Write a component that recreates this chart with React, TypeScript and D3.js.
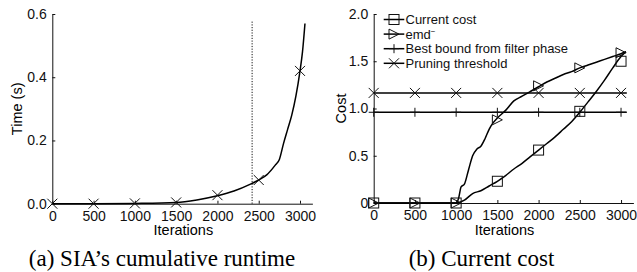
import { useEffect, useRef } from "react";
import * as d3 from "d3";

// marker positions shared by every series
const markerIters = [0, 500, 1000, 1500, 2000, 2500, 3000];
const xTicks = [0, 500, 1000, 1500, 2000, 2500, 3000];

// (a) cumulative runtime
const timeIters = [0, 500, 1000, 1500, 1750, 2000, 2200, 2400, 2500, 2600, 2700, 2750, 2800, 2850, 2900, 2950, 3000, 3030, 3060];
const timeValues = [0, 0, 0.001, 0.004, 0.012, 0.025, 0.04, 0.062, 0.075, 0.092, 0.122, 0.14, 0.19, 0.235, 0.28, 0.34, 0.42, 0.48, 0.57];
const timeMarkers = [0, 0, 0.001, 0.004, 0.027, 0.075, 0.42];
const timeTicks = [0, 0.2, 0.4, 0.6];
const filterEndIter = 2420;

// (b) current cost
const emdIters = [0, 1000, 1030, 1060, 1100, 1150, 1200, 1250, 1300, 1350, 1400, 1450, 1500, 1600, 1700, 1800, 1900, 2000, 2100, 2200, 2300, 2400, 2500, 2600, 2700, 2800, 2900, 3000, 3060];
const emdValues = [0, 0, 0.05, 0.17, 0.2, 0.35, 0.5, 0.57, 0.6, 0.68, 0.78, 0.85, 0.9, 0.98, 1.08, 1.13, 1.18, 1.23, 1.28, 1.32, 1.36, 1.39, 1.43, 1.46, 1.49, 1.52, 1.55, 1.58, 1.6];
const emdMarkers = [0, 0, 0, 0.88, 1.24, 1.43, 1.59];
const costIters = [0, 1000, 1100, 1200, 1300, 1400, 1500, 1600, 1700, 1800, 1900, 2000, 2100, 2200, 2300, 2400, 2500, 2600, 2700, 2800, 2900, 3000, 3060];
const costValues = [0, 0, 0.03, 0.1, 0.13, 0.18, 0.23, 0.29, 0.36, 0.42, 0.49, 0.56, 0.63, 0.7, 0.78, 0.86, 0.96, 1.07, 1.18, 1.3, 1.43, 1.55, 1.6];
const costMarkers = [0, 0, 0, 0.23, 0.56, 0.97, 1.5];
const bestBound = 0.96;
const pruningThreshold = 1.165;
const costTicks = [0, 0.5, 1, 1.5, 2];
const legendLabels = ["Current cost", "emd", "Best bound from filter phase", "Pruning threshold"];

const SANS = "'Liberation Sans', Arial, Helvetica, sans-serif";
const SERIF = "'Liberation Serif', 'Times New Roman', serif";

type Sel = d3.Selection<SVGGElement, unknown, null, undefined>;

function drawMarker(g: Sel, kind: string, x: number, y: number) {
  const s = 5;
  const m = g.append("g").attr("transform", `translate(${x},${y})`)
    .attr("fill", "none").attr("stroke", "#111").attr("stroke-width", 1);
  if (kind === "x") {
    m.append("path").attr("d", `M${-s},${-s}L${s},${s}M${-s},${s}L${s},${-s}`);
  } else if (kind === "plus") {
    m.append("path").attr("d", `M${-s},0L${s},0M0,${-4.5}L0,4.5`);
  } else if (kind === "square") {
    m.append("rect").attr("x", -s).attr("y", -s).attr("width", 2 * s).attr("height", 2 * s);
  } else if (kind === "tri") {
    m.append("path").attr("d", `M${-s},${-s}L${s},0L${-s},${s}Z`);
  }
}

function drawAxes(g: Sel, x: d3.ScaleLinear<number, number>, y: d3.ScaleLinear<number, number>,
  yTicks: number[], yFmt: (d: number) => string, yLabel: string, yLabelX: number) {
  const y0 = y(0);
  const xa = g.append("g").attr("transform", `translate(0,${y0})`)
    .call(d3.axisBottom(x).tickValues(xTicks).tickSizeInner(-3).tickSizeOuter(0).tickPadding(7).tickFormat(d3.format("d")));
  const ya = g.append("g").attr("transform", `translate(${x(0)},0)`)
    .call(d3.axisLeft(y).tickValues(yTicks).tickSizeInner(-3).tickSizeOuter(0).tickPadding(5.5).tickFormat((d) => yFmt(d as number)));
  [xa, ya].forEach((a) => {
    a.selectAll("text").attr("font-family", SANS).attr("font-size", 14).attr("fill", "#111");
    a.selectAll("line, path").attr("stroke", "#111");
  });
  const [r0, r1] = x.range();
  g.append("text").attr("x", (r0 + r1) / 2 + 1).attr("y", 235)
    .attr("text-anchor", "middle").attr("font-family", SANS).attr("font-size", 14.5).text("Iterations");
  const [yb, yt] = y.range();
  g.append("text").attr("transform", `translate(${yLabelX},${(yb + yt) / 2}) rotate(-90)`)
    .attr("text-anchor", "middle").attr("font-family", SANS).attr("font-size", 14.5).text(yLabel);
}

export default function App() {
  const ref = useRef<SVGSVGElement>(null);

  useEffect(() => {
    const svg = d3.select(ref.current);
    svg.selectAll("*").remove();
    const root = svg.append("g") as unknown as Sel;

    // ---- (a) ----
    const xa = d3.scaleLinear().domain([0, 3150]).range([52.3, 312.4]);
    const ya = d3.scaleLinear().domain([0, 0.6]).range([203.7, 14]);
    const ga = root.append("g");
    drawAxes(ga, xa, ya, timeTicks, d3.format(".1f"), "Time (s)", 22);

    ga.append("line")
      .attr("x1", xa(filterEndIter)).attr("x2", xa(filterEndIter))
      .attr("y1", ya(0)).attr("y2", ya(0.58))
      .attr("stroke", "#111").attr("stroke-width", 1).attr("stroke-dasharray", "1.2,1.5");

    const lineA = d3.line<number>().x((_, i) => xa(timeIters[i])).y((d) => ya(d)).curve(d3.curveMonotoneX);
    ga.append("path").attr("d", lineA(timeValues)).attr("fill", "none").attr("stroke", "#000").attr("stroke-width", 1.5);
    timeMarkers.forEach((v, i) => drawMarker(ga, "x", xa(markerIters[i]), ya(v)));

    ga.append("text").attr("x", 162).attr("y", 266).attr("text-anchor", "middle")
      .attr("font-family", SERIF).attr("font-size", 23).text("(a) SIA\u2019s cumulative runtime");

    // ---- (b) ----
    const xb = d3.scaleLinear().domain([0, 3150]).range([373.7, 633.4]);
    const yb = d3.scaleLinear().domain([0, 2]).range([203, 14]);
    const gb = root.append("g");
    drawAxes(gb, xb, yb, costTicks, (d) => (d === 0 ? "0" : d3.format(".1f")(d)), "Cost", 346);

    const hEnd = 3070;
    [[bestBound, "plus"], [pruningThreshold, "x"]].forEach(([v, k]) => {
      gb.append("line").attr("x1", xb(0)).attr("x2", xb(hEnd))
        .attr("y1", yb(v as number)).attr("y2", yb(v as number))
        .attr("stroke", "#000").attr("stroke-width", 1.5);
      markerIters.forEach((it) => drawMarker(gb, k as string, xb(it), yb(v as number)));
    });

    const lineEmd = d3.line<number>().x((_, i) => xb(emdIters[i])).y((d) => yb(d)).curve(d3.curveMonotoneX);
    gb.append("path").attr("d", lineEmd(emdValues)).attr("fill", "none").attr("stroke", "#000").attr("stroke-width", 1.5);
    const lineCost = d3.line<number>().x((_, i) => xb(costIters[i])).y((d) => yb(d)).curve(d3.curveMonotoneX);
    gb.append("path").attr("d", lineCost(costValues)).attr("fill", "none").attr("stroke", "#000").attr("stroke-width", 1.5);
    costMarkers.forEach((v, i) => drawMarker(gb, "square", xb(markerIters[i]), yb(v)));
    emdMarkers.forEach((v, i) => drawMarker(gb, "tri", xb(markerIters[i]), yb(v)));

    // legend
    const kinds = ["square", "tri", "plus", "x"];
    legendLabels.forEach((label, i) => {
      const cy = 19.5 + i * 14.6;
      gb.append("line").attr("x1", 383.7).attr("x2", 404.3).attr("y1", cy).attr("y2", cy)
        .attr("stroke", "#000").attr("stroke-width", 1.5);
      drawMarker(gb, kinds[i], 394, cy);
      const t = gb.append("text").attr("x", 405.5).attr("y", cy + 4.6)
        .attr("font-family", SANS).attr("font-size", 13).attr("fill", "#111").text(label);
      if (label === "emd") {
        t.append("tspan").attr("dy", -5).attr("font-size", 8).text("\u2212");
      }
    });

    gb.append("text").attr("x", 481.5).attr("y", 266).attr("text-anchor", "middle")
      .attr("font-family", SERIF).attr("font-size", 23).text("(b) Current cost");
  }, []);

  return (
    <svg ref={ref} width={637} height={272}
      style={{ position: "absolute", left: 0, top: 0, background: "#fff" }} />
  );
}
